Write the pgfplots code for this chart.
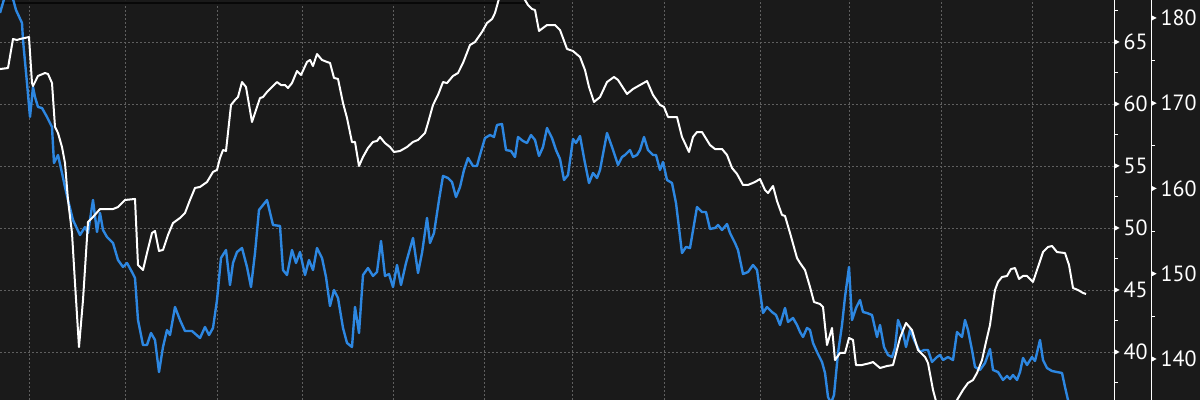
\documentclass[border=0pt]{standalone}
\usepackage{fontspec}
\setmainfont{PT Sans}
\usepackage{pgfplots}
\pgfplotsset{compat=1.18}
\definecolor{bg}{RGB}{26,26,26}
\definecolor{gridc}{RGB}{95,95,95}
\definecolor{blueline}{RGB}{45,135,225}
\definecolor{topline}{RGB}{8,8,8}
\pgfplotsset{
  /pgf/number format/assume math mode=true,
  base/.style={
    anchor=south west, at={(0,0)},
    scale only axis, height=400bp,
    xmin=0, ymin=0,
    clip=true,
    axis x line*=bottom, axis y line*=right,
    x axis line style={draw=none},
    y axis line style={white, line width=1bp},
    xtick=\empty,
    xticklabels={},
    ytick=\empty,
    tick align=outside,
    major tick length=0pt, minor tick length=4bp,
    minor tick style={white, line width=1bp},
    major tick style={draw=none},
    yticklabel style={anchor=west, inner sep=0pt, text=white, font=\fontsize{22bp}{24bp}\selectfont},
    yticklabel={\tikz[baseline={(0,-0.35em)}]\fill[white](0,-2.8bp)--(5.5bp,0)--(0,2.8bp)--cycle;\hspace{4bp}\pgfmathprintnumber{\tick}},
  },
}
\begin{document}
\begin{tikzpicture}
\path[use as bounding box, fill=bg] (0,0) rectangle (1200bp,400bp);
% inner axis: grid and labels
\begin{axis}[base, width=1114bp, xmax=1114, ymin=36.129, ymax=68.387,
  ytick={40,45,50,55,60,65}, minor ytick={37.5,42.5,47.5,52.5,57.5,62.5,67.5},
  xtick={29,125,217,302,393,484,572,664,760,849,941,1032},
  xticklabels={},
  xmajorgrids, ymajorgrids,
  major grid style={gridc, line width=0.8bp, dash pattern=on 2bp off 2bp},
]
\draw[topline, line width=1.2bp] (axis cs:0,68.15) -- (axis cs:540,68.15);
\end{axis}
% outer axis: blue series
\begin{axis}[base, width=1151bp, xmax=1151, ymin=135.19, ymax=182.11,
  ytick={140,150,160,170,180}, minor ytick={145,155,165,175},
]
\addplot[blueline, line width=2.4bp, line join=round] coordinates {
(0,180.59)(5,182.58)(9,182.81)(13,182.23)(16,180.94)(22,179.41)(23,177.42)(27,172.37)(30,168.39)(33,171.91)
(35,170.73)(38,169.56)(42,169.44)(47,168.39)(52,167.21)(54,162.99)(58,163.93)(62,161.82)(65,160.17)(68,158.65)
(73,156.30)(80,154.54)(85,155.48)(88,154.78)(93,158.65)(97,154.90)(100,157.13)(103,155.13)(107,154.31)(113,153.61)
(118,151.61)(123,150.79)(127,151.26)(132,150.20)(135,149.50)(138,144.57)(143,141.64)(147,141.64)(151,143.05)(155,142.23)
(159,138.47)(163,141.41)(167,143.40)(170,142.81)(175,146.10)(180,144.57)(185,143.28)(192,143.28)(200,142.46)(205,143.75)
(209,142.81)(213,143.64)(217,146.92)(221,151.85)(226,152.78)(230,148.68)(233,151.26)(237,152.55)(242,153.02)(247,150.79)
(251,148.44)(255,152.43)(259,157.48)(263,158.06)(267,158.65)(273,155.72)(280,155.60)(283,150.44)(287,149.85)(292,152.78)
(296,151.26)(300,152.55)(305,149.85)(309,151.61)(313,150.44)(317,153.02)(322,151.85)(326,149.62)(330,146.22)(334,148.09)
(338,147.15)(343,143.64)(347,141.88)(352,141.41)(355,146.10)(359,143.05)(363,149.85)(368,150.67)(373,149.74)(377,150.20)
(381,153.84)(385,149.74)(389,149.97)(393,148.44)(397,151.03)(401,148.68)(406,151.26)(413,154.19)(418,150.09)(422,152.43)
(427,156.54)(430,153.61)(434,154.78)(439,158.65)(443,161.47)(448,161.23)(452,160.76)(456,159.00)(460,160.17)(464,162.17)
(468,163.58)(473,162.64)(477,162.64)(480,163.93)(485,165.92)(490,166.27)(494,166.04)(497,167.45)(502,167.56)(506,164.51)
(511,164.40)(515,163.69)(518,166.04)(523,165.57)(527,165.34)(531,166.27)(535,165.69)(539,163.81)(543,164.87)(547,167.10)
(552,165.92)(556,164.51)(560,163.46)(564,161.00)(568,161.58)(573,165.81)(576,165.34)(580,166.16)(584,163.58)(589,160.64)
(593,161.82)(597,161.23)(600,162.17)(607,166.51)(612,164.87)(618,162.76)(622,163.69)(625,163.93)(630,164.51)(633,163.69)
(637,163.93)(640,164.51)(644,166.04)(648,164.51)(653,163.93)(656,163.93)(660,162.17)(663,163.11)(667,161.00)(672,160.64)
(676,158.30)(682,152.43)(686,153.14)(690,153.02)(697,157.83)(702,157.24)(706,157.24)(710,155.25)(715,155.37)(718,155.72)
(722,155.13)(727,155.83)(730,154.78)(735,153.61)(738,152.78)(743,149.97)(748,150.20)(753,151.03)(757,150.44)(763,145.40)
(767,146.10)(772,145.51)(776,145.16)(780,143.99)(785,145.98)(788,144.34)(793,144.81)(797,143.99)(800,143.17)(803,142.58)
(807,143.64)(810,143.40)(813,141.88)(817,140.82)(822,139.65)(825,138.36)(828,135.54)(831,134.84)(834,135.78)(838,140.70)
(842,143.99)(845,147.27)(849,150.79)(852,144.57)(856,145.98)(860,146.92)(863,145.51)(867,145.39)(872,145.16)(877,142.58)
(880,143.99)(884,141.41)(888,140.47)(892,140.23)(895,141.29)(898,144.57)(903,143.05)(906,141.41)(910,143.40)(915,141.99)
(920,140.82)(924,141.05)(928,141.05)(932,139.65)(937,140.23)(940,140.47)(943,139.88)(948,140.23)(953,139.88)(957,143.17)
(962,142.58)(965,144.57)(968,143.40)(972,141.05)(975,139.06)(980,138.71)(985,139.53)(990,141.17)(993,138.71)(998,138.47)
(1003,137.54)(1007,138.01)(1010,137.65)(1013,138.12)(1017,137.54)(1020,138.47)(1023,140.12)(1027,139.30)(1032,140.23)(1035,139.76)
(1040,142.23)(1043,139.88)(1047,138.94)(1052,138.59)(1057,138.47)(1062,138.36)(1065,136.71)(1068,135.19)(1071,134.02)
};
\end{axis}
% white series on inner scale
\begin{axis}[base, width=1114bp, xmax=1114, ymin=36.129, ymax=68.387,
  axis y line*=right, y axis line style={draw=none}, yticklabels={}, minor tick length=0pt]
\addplot[white, line width=2bp, line join=round] coordinates {
(0,62.82)(8,62.90)(13,65.24)(17,65.16)(20,65.24)(29,65.40)(32,61.69)(33,61.45)(38,62.26)(45,62.50)
(48,62.42)(52,61.69)(55,58.15)(58,57.66)(62,56.53)(65,55.24)(68,52.26)(72,49.60)(75,45.56)(79,40.40)
(83,44.19)(88,50.48)(93,50.89)(100,51.53)(113,51.53)(118,51.69)(125,52.26)(135,52.34)(138,47.02)(143,46.61)
(147,47.98)(152,49.60)(155,49.76)(159,48.15)(163,48.23)(168,49.44)(173,50.40)(180,50.81)(185,51.21)(190,52.26)
(195,53.23)(200,53.31)(207,53.71)(213,54.52)(217,54.68)(220,55.64)(223,56.29)(226,56.21)(231,59.92)(235,60.32)
(238,60.56)(242,61.77)(246,61.37)(252,58.55)(257,59.76)(260,60.48)(263,60.56)(267,60.97)(272,61.37)(277,61.77)
(281,61.53)(285,61.53)(288,61.29)(292,61.69)(297,62.66)(301,62.34)(307,63.39)(310,63.55)(313,63.06)(317,64.03)
(322,63.55)(327,63.39)(330,63.31)(334,62.10)(338,62.02)(343,60.08)(347,58.87)(352,56.92)(355,56.94)(359,55.00)
(363,55.73)(368,56.45)(373,56.94)(377,57.02)(380,57.34)(385,56.85)(390,56.53)(394,56.13)(400,56.21)(407,56.53)
(413,56.94)(418,57.10)(425,57.66)(428,58.47)(433,59.92)(438,60.73)(443,61.77)(447,61.69)(453,62.26)(458,62.50)
(463,63.31)(470,64.76)(475,65.00)(482,65.81)(487,66.53)(492,66.85)(495,67.34)(500,68.79)(505,69.35)(512,69.50)
(518,69.19)(525,68.39)(528,67.98)(532,67.66)(535,67.58)(539,65.89)(547,66.37)(555,66.37)(560,65.97)(567,64.44)
(573,64.27)(580,63.79)(585,62.74)(589,61.37)(594,60.16)(600,60.56)(607,61.77)(614,62.18)(618,61.94)(627,60.81)
(633,61.21)(640,61.53)(647,61.85)(653,60.73)(660,59.92)(664,59.76)(668,58.95)(677,58.95)(682,57.34)(689,56.13)
(693,57.34)(697,57.74)(702,57.74)(710,56.69)(715,56.37)(722,56.37)(727,55.89)(732,54.84)(737,54.36)(743,53.47)
(748,53.47)(755,53.71)(760,53.95)(765,53.06)(768,52.82)(773,53.39)(777,52.18)(782,51.05)(785,50.97)(790,49.60)
(797,47.58)(800,47.18)(805,46.61)(810,45.24)(814,44.03)(820,43.87)(823,43.63)(827,40.56)(832,41.94)(835,39.35)
(840,39.92)(845,39.92)(849,41.13)(853,40.97)(856,38.95)(862,38.95)(870,39.11)(873,39.19)(880,38.71)(887,38.87)
(893,38.95)(900,41.13)(906,42.34)(912,41.77)(918,40.16)(925,39.60)(928,39.11)(933,36.94)(937,35.73)(945,35.32)
(952,35.48)(957,36.13)(963,36.94)(968,37.50)(973,37.74)(977,38.31)(982,39.35)(986,40.81)(990,42.18)(993,43.95)
(995,45.00)(998,45.65)(1002,46.05)(1007,46.13)(1011,46.69)(1015,46.77)(1019,45.89)(1023,46.13)(1027,46.13)(1033,45.65)
(1037,46.61)(1043,48.06)(1048,48.47)(1052,48.55)(1057,48.06)(1065,47.98)(1069,47.02)(1073,45.16)(1078,45.00)(1083,44.76)
(1086,44.68)
};
\end{axis}
\end{tikzpicture}
\end{document}
